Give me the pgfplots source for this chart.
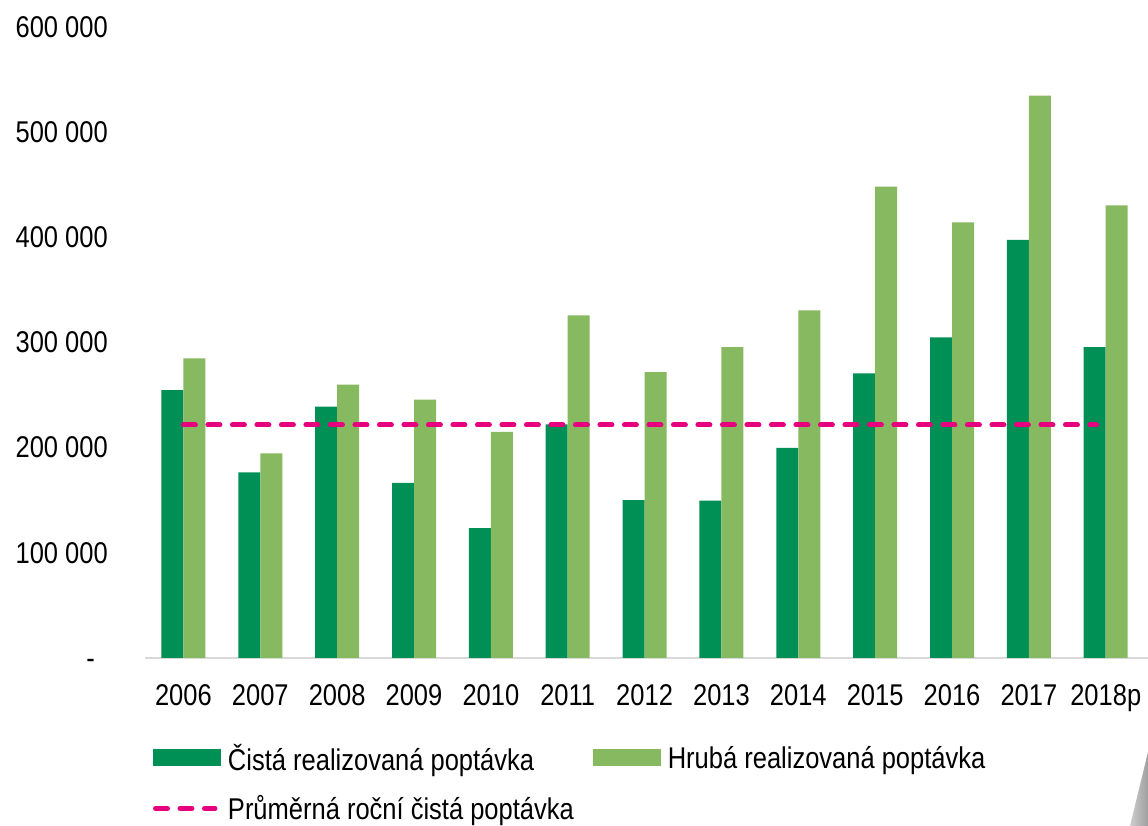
\documentclass[border=0pt]{standalone}
\usepackage{fontspec}
\setmainfont{Liberation Sans}[FakeStretch=0.85]
\usepackage{pgfplots}
\pgfplotsset{compat=1.18}
\definecolor{dkgreen}{HTML}{008F55}
\definecolor{ltgreen}{HTML}{87B961}
\definecolor{avgpink}{HTML}{E6007E}
\definecolor{axgray}{HTML}{D9D9D9}
\begin{document}
\begin{tikzpicture}
\useasboundingbox (-145pt,-168pt) rectangle (1003pt,658pt);
\begin{axis}[
  scale only axis, width=1003pt, height=631pt,
  at={(0pt,0pt)}, anchor=south west,
  xmin=-0.5, xmax=12.55, ymin=0, ymax=600000,
  ybar=0pt, bar width=22pt,
  axis lines*=left,
  x axis line style={draw=axgray, line width=1.5pt, -},
  y axis line style={draw=none, -},
  xtick={0,...,12},
  xticklabels={2006,2007,2008,2009,2010,2011,2012,2013,2014,2015,2016,2017,2018p},
  ytick={0,100000,200000,300000,400000,500000,600000},
  yticklabels={{-\vphantom{0}\kern13pt},100 000,200 000,300 000,400 000,500 000,600 000},
  major tick length=0pt,
  tick style={draw=none},
  tick label style={font=\fontsize{30}{36}\selectfont},
  yticklabel style={anchor=east, inner sep=0pt, xshift=-37pt},
  xticklabel style={anchor=north, inner sep=0pt, yshift=-26pt},
  scaled y ticks=false,
  clip=false,
  legend columns=2,
  legend cell align=left,
  legend style={draw=none, fill=none, inner sep=0pt, outer sep=0pt,
    at={(8pt,-86pt)}, anchor=north west,
    font=\fontsize{30}{36}\selectfont,
    nodes={inner sep=0pt},
    row sep=24pt,
    /tikz/every odd column/.append style={column sep=7pt},
    /tikz/every even column/.append style={column sep=19pt}},
]
\addplot[fill=dkgreen, draw=none,
  legend image code/.code={\fill[dkgreen] (0pt,-8.5pt) rectangle (68pt,8.5pt);}]
  coordinates {(0,254800) (1,176600) (2,239000) (3,166400) (4,123600) (5,222200) (6,150200) (7,149600) (8,199700) (9,270700) (10,304900) (11,397500) (12,295700)};
\addlegendentry{Čistá realizovaná poptávka}
\addplot[fill=ltgreen, draw=none,
  legend image code/.code={\fill[ltgreen] (0pt,-8.5pt) rectangle (68pt,8.5pt);}]
  coordinates {(0,285000) (1,194600) (2,259900) (3,245600) (4,214900) (5,325900) (6,271900) (7,295700) (8,330600) (9,448100) (10,414300) (11,534700) (12,430500)};
\addlegendentry{Hrubá realizovaná poptávka}
\addplot[sharp plot, draw=avgpink, line width=5pt, line cap=round, dash pattern=on 12pt off 12.5pt,
  legend image code/.code={\draw[avgpink, line width=5pt, line cap=round, dash pattern=on 12pt off 12.5pt] (2.5pt,0pt) -- (62pt,0pt);}]
  coordinates {(0,221550) (11.88,221550)};
\addlegendentry{Průměrná roční čistá poptávka}
\end{axis}
\shade[left color=gray!40, right color=gray!75] (985pt,-168pt) -- (1003pt,-94pt) -- (1003pt,-168pt) -- cycle;
\end{tikzpicture}
\end{document}
